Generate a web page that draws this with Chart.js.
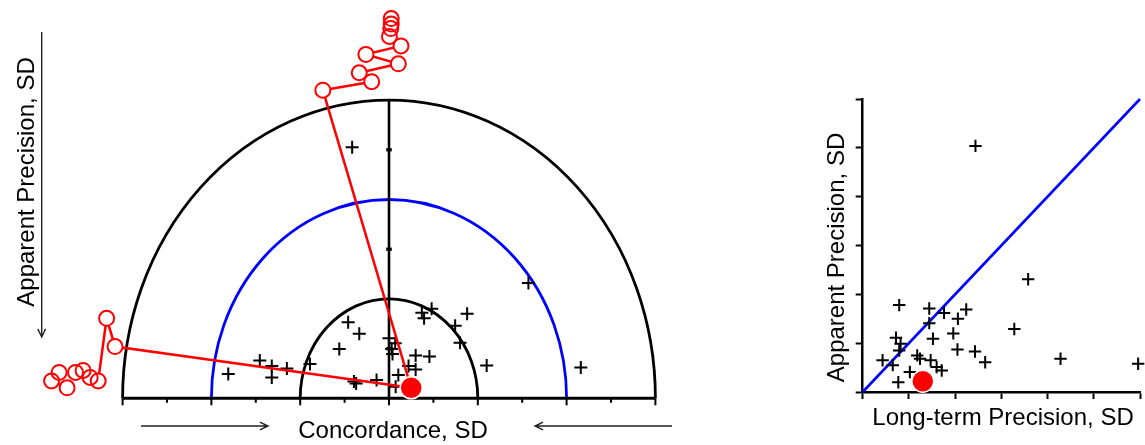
<!DOCTYPE html>
<html>
<head>
<meta charset="utf-8">
<script src="https://cdn.jsdelivr.net/npm/chart.js@4.4.1/dist/chart.umd.min.js"></script>
<style>
html,body{margin:0;padding:0;background:#fff;}
#wrap{position:relative;width:1145px;height:445px;overflow:hidden;background:#fff;}
#lbox{position:absolute;left:0;top:0;width:720px;height:445px;}
#rbox{position:absolute;left:760px;top:0;width:385px;height:445px;}
</style>
</head>
<body>
<div id="wrap">
  <div id="lbox"><canvas id="leftChart"></canvas></div>
  <div id="rbox"><canvas id="rightChart"></canvas></div>
</div>
<script>
// ---------- DATA ----------
// Left panel: concordance (x) vs apparent precision (y), in SD units
const concordance = [-0.83, 3.14, 4.32, -3.62, -2.91, -2.64, -2.64, -2.30, -1.78,
  -0.92, -0.67, -1.12, -0.79, -0.74, -0.28, 0.00, 0.14, 0.06, 0.08, 0.21, 0.44,
  0.60, 0.60, 0.91, 0.74, 0.79, 0.96, 1.76, 1.49, 1.60, 2.20, 0.15];
const apparentLeft = [5.05, 2.32, 0.62, 0.49, 0.76, 0.65, 0.42, 0.60, 0.69,
  1.53, 1.30, 0.99, 0.34, 0.30, 0.37, 1.21, 1.11, 0.99, 0.89, 0.47, 0.65,
  0.86, 0.58, 0.84, 1.72, 1.61, 1.80, 1.70, 1.46, 1.12, 0.66, 0.23];

// Right panel: long-term precision (x) vs apparent precision (y)
const longTerm = [0.79, 1.44, 1.76, 2.24, 2.06, 1.44, 1.96, 1.52, 0.72, 0.82, 0.79,
  2.05, 2.43, 2.65, 0.43, 0.65, 1.18, 1.24, 1.47, 1.60, 1.71, 0.77, 1.02,
  3.28, 3.58, 4.28, 5.96, 2.44];
const apparentRight = [1.78, 1.71, 1.62, 1.69, 1.50, 1.41, 1.20, 1.09, 1.11, 0.99, 0.85,
  0.87, 0.83, 0.61, 0.65, 0.55, 0.75, 0.68, 0.65, 0.51, 0.44, 0.20, 0.41,
  1.29, 2.31, 0.68, 0.58, 5.04];

// Highlighted (current) result
const currentConcordance = [0.50];
const currentApparent = [0.21];
const currentLongTerm = [1.30];
const currentApparentR = [0.22];

// Trajectories (open red circles)
const trajTopX = [-1.49, -0.39, -0.67, 0.21, -0.52, 0.27, 0.01, 0.04, 0.05, 0.05];
const trajTopY = [6.20, 6.37, 6.55, 6.73, 6.92, 7.09, 7.28, 7.44, 7.53, 7.64];
const trajLeftX = [-6.17, -6.36, -6.55, -6.73, -6.89, -7.06, -7.43, -7.60, -7.25];
const trajLeftY = [1.04, 1.61, 0.35, 0.42, 0.56, 0.52, 0.52, 0.35, 0.21];

// Reference rings (SD) and axis ticks
const rings = [2, 4, 6];
const concordanceTicks = [-6, -5, -4, -3, -2, -1, 0, 1, 2, 3, 4, 5, 6];
const precisionTicks = [1, 3, 5];
const identityLine = [0, 6];

// ---------- HELPERS ----------
const pts = (xs, ys) => xs.map((v, i) => ({x: v, y: ys[i]}));
const FONT = '24px "Liberation Sans", Arial, sans-serif';
const RED = '#ff0000', BLUE = '#0000ff';

function arrow(ctx, x1, y1, x2, y2) {
  const a = Math.atan2(y2 - y1, x2 - x1), L = 9, W = 0.45;
  ctx.beginPath();
  ctx.moveTo(x1, y1); ctx.lineTo(x2, y2);
  ctx.moveTo(x2 - L * Math.cos(a - W), y2 - L * Math.sin(a - W));
  ctx.lineTo(x2, y2);
  ctx.lineTo(x2 - L * Math.cos(a + W), y2 - L * Math.sin(a + W));
  ctx.stroke();
}

const common = {
  responsive: true,
  maintainAspectRatio: false,
  animation: false,
  events: [],
  plugins: {legend: {display: false}, tooltip: {enabled: false}}
};

// ---------- LEFT CHART ----------
const leftDecor = {
  id: 'leftDecor',
  beforeDatasetsDraw(chart) {
    const {ctx, scales: {x, y}} = chart;
    const cx = x.getPixelForValue(0), cy = y.getPixelForValue(0);
    const ringColors = ['#000', BLUE, '#000'];
    ctx.save();
    rings.forEach((r, i) => {
      const rx = x.getPixelForValue(r) - cx, ry = cy - y.getPixelForValue(r);
      ctx.beginPath();
      ctx.ellipse(cx, cy, rx, ry, 0, Math.PI, 2 * Math.PI);
      ctx.strokeStyle = ringColors[i];
      ctx.lineWidth = 2.8;
      ctx.stroke();
    });
    ctx.strokeStyle = '#000';
    ctx.lineWidth = 3;
    ctx.beginPath();
    ctx.moveTo(x.getPixelForValue(-6), cy);
    ctx.lineTo(x.getPixelForValue(6), cy);
    ctx.stroke();
    ctx.lineWidth = 2;
    concordanceTicks.forEach(v => {
      const px = x.getPixelForValue(v);
      const len = (v % 2 === 0) ? 7 : 4.5;
      ctx.beginPath(); ctx.moveTo(px, cy); ctx.lineTo(px, cy + len); ctx.stroke();
    });
    ctx.lineWidth = 2.6;
    ctx.beginPath(); ctx.moveTo(cx, cy); ctx.lineTo(cx, y.getPixelForValue(6)); ctx.stroke();
    ctx.fillStyle = '#000';
    precisionTicks.forEach(v => {
      const py = y.getPixelForValue(v);
      ctx.fillRect(cx - 2.8, py - 1.6, 5.6, 3.2);
    });
    ctx.restore();
  },
  afterDraw(chart) {
    const ctx = chart.ctx;
    ctx.save();
    ctx.fillStyle = '#000';
    ctx.font = FONT;
    ctx.textAlign = 'center';
    ctx.textBaseline = 'alphabetic';
    ctx.fillText('Concordance, SD', 393, 438);
    ctx.save();
    ctx.translate(33.5, 182);
    ctx.rotate(-Math.PI / 2);
    ctx.fillText('Apparent Precision, SD', 0, 0);
    ctx.restore();
    ctx.strokeStyle = '#222';
    ctx.lineWidth = 1.4;
    arrow(ctx, 141, 426, 268, 426);
    arrow(ctx, 672, 426, 535, 426);
    arrow(ctx, 41.7, 32, 41.7, 337);
    ctx.restore();
  }
};

const currentL = pts(currentConcordance, currentApparent);
const trajTop = pts(trajTopX, trajTopY);
const trajLeft = pts(trajLeftX, trajLeftY);

new Chart(document.getElementById('leftChart'), {
  type: 'scatter',
  data: {
    datasets: [
      {data: currentL, pointRadius: 11, pointBackgroundColor: RED, pointBorderColor: '#fff', pointBorderWidth: 1.5, clip: false},
      {data: trajTop.concat(trajLeft), pointRadius: 7.5, pointBackgroundColor: 'rgba(0,0,0,0)', pointBorderColor: RED, pointBorderWidth: 2, clip: false},
      {data: trajTop.concat(trajLeft), pointRadius: 7.5, pointBackgroundColor: '#fff', pointBorderWidth: 0, pointBorderColor: 'rgba(0,0,0,0)', clip: false},
      {data: currentL.concat(trajTop), showLine: true, pointRadius: 0, borderColor: RED, borderWidth: 2.5, clip: false},
      {data: currentL.concat(trajLeft), showLine: true, pointRadius: 0, borderColor: RED, borderWidth: 2.5, clip: false},
      {data: pts(concordance, apparentLeft), pointStyle: 'cross', pointRadius: 6.5, pointBorderColor: '#000', pointBorderWidth: 2, clip: false}
    ]
  },
  options: Object.assign({}, common, {
    layout: {autoPadding: false, padding: {left: 33.8, right: 20.2, top: 0.7, bottom: 21.85}},
    scales: {
      x: {type: 'linear', min: -8, max: 7, display: false},
      y: {type: 'linear', min: -0.5, max: 8, display: false}
    }
  }),
  plugins: [leftDecor]
});

// ---------- RIGHT CHART ----------
const rightText = {
  id: 'rightText',
  afterDraw(chart) {
    const ctx = chart.ctx;
    ctx.save();
    ctx.fillStyle = '#000';
    ctx.font = FONT;
    ctx.textAlign = 'center';
    ctx.textBaseline = 'alphabetic';
    ctx.fillText('Long-term Precision, SD', 243, 425);
    ctx.translate(83.5, 257.5);
    ctx.rotate(-Math.PI / 2);
    ctx.fillText('Apparent Precision, SD', 0, 0);
    ctx.restore();
  }
};

const axisOpts = (min, max) => ({
  type: 'linear', min: min, max: max,
  ticks: {display: false, stepSize: 1},
  grid: {drawOnChartArea: false, drawTicks: true, tickLength: 7, tickColor: '#000', tickWidth: 2},
  border: {display: true, color: '#000', width: 2.5}
});

new Chart(document.getElementById('rightChart'), {
  type: 'scatter',
  data: {
    datasets: [
      {data: pts(currentLongTerm, currentApparentR), pointRadius: 11, pointBackgroundColor: RED, pointBorderColor: '#fff', pointBorderWidth: 1.5, clip: false},
      {data: pts(longTerm, apparentRight), pointStyle: 'cross', pointRadius: 6.2, pointBorderColor: '#000', pointBorderWidth: 2, clip: false},
      {data: pts(identityLine, identityLine), showLine: true, pointRadius: 0, borderColor: BLUE, borderWidth: 2.6, clip: false}
    ]
  },
  options: Object.assign({}, common, {
    layout: {autoPadding: false, padding: {left: 95.7, right: 5, top: 99, bottom: 46}},
    scales: {x: axisOpts(0, 6), y: axisOpts(0, 6)}
  }),
  plugins: [rightText]
});
</script>
</body>
</html>
